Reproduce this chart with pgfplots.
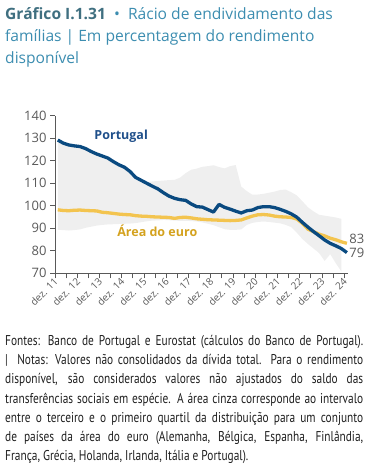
\documentclass[border=0pt]{standalone}
\usepackage{pgfplots}
\pgfplotsset{compat=1.18}
\usepgfplotslibrary{fillbetween}
\usepackage{pgfplotstable}
\usepackage{fontspec}
\setmainfont{Open Sans}
\newfontfamily\notefont[FakeStretch=0.80]{PT Sans}
\definecolor{ptblue}{HTML}{0A4A80}
\definecolor{euyel}{HTML}{F3C44F}
\definecolor{eulab}{HTML}{D4A21E}
\definecolor{ptlab}{HTML}{1F4F8A}
\definecolor{bandgray}{HTML}{EFEFEF}
\definecolor{titA}{HTML}{3F6F80}
\definecolor{titB}{HTML}{3C8DB0}
\definecolor{axgray}{HTML}{595959}

\pgfplotstableread{
q pt eu
0.5 129.2 98.2
1.5 127.8 97.9
2.5 127.0 97.8
3.5 126.6 98.0
4.5 126.3 98.1
5.5 125.4 97.9
6.5 124.1 97.8
7.5 123.0 97.7
8.5 122.1 97.1
9.5 121.2 96.9
10.5 119.6 96.6
11.5 118.2 96.3
12.5 117.1 96.1
13.5 115.2 96.0
14.5 112.6 95.6
15.5 111.3 95.4
16.5 110.0 95.3
17.5 108.7 95.1
18.5 107.5 95.0
19.5 105.8 94.9
20.5 104.3 94.8
21.5 103.3 94.4
22.5 102.7 94.8
23.5 102.4 94.9
24.5 100.8 94.6
25.5 99.6 94.2
26.5 99.4 94.0
27.5 98.3 93.8
28.5 97.2 93.7
29.5 100.6 93.6
30.5 99.3 93.5
31.5 98.5 93.4
32.5 97.6 93.5
33.5 96.8 93.7
34.5 97.8 94.6
35.5 98.1 95.4
36.5 99.2 96.0
37.5 99.6 96.1
38.5 99.6 95.9
39.5 99.2 95.4
40.5 98.4 95.1
41.5 97.5 95.0
42.5 96.4 94.8
43.5 94.9 94.1
44.5 92.6 92.2
45.5 90.5 89.6
46.5 88.5 88.5
47.5 86.7 87.4
48.5 84.8 86.6
49.5 83.3 85.6
50.5 82.2 84.9
51.5 81.0 84.0
52.5 79.2 83.3
}\lineData

\pgfplotstableread{
q lo hi
0.5 89.3 128.5
1.5 89.2 127.3
2.5 89.0 126.6
3.5 89.2 126.2
4.5 89.5 125.8
5.5 90.2 124.8
6.5 90.7 123.6
7.5 91.2 122.5
8.5 91.5 121.6
9.5 91.7 120.7
10.5 91.8 119.1
11.5 91.9 117.7
12.5 92.0 116.6
13.5 92.1 114.7
14.5 92.3 112.2
15.5 92.7 110.8
16.5 93.1 110.5
17.5 93.4 110.8
18.5 93.5 111.0
19.5 93.7 111.2
20.5 93.6 111.4
21.5 93.4 111.5
22.5 93.3 112.5
23.5 93.3 114.5
24.5 93.2 116.0
25.5 93.0 116.5
26.5 92.6 117.3
27.5 92.0 117.6
28.5 91.4 118.0
29.5 90.5 117.2
30.5 89.6 116.6
31.5 89.3 117.6
32.5 89.3 118.1
33.5 89.5 108.5
34.5 91.5 106.5
35.5 92.4 104.9
36.5 92.8 105.0
37.5 93.0 105.3
38.5 92.8 105.8
39.5 92.5 106.3
40.5 92.2 107.0
41.5 91.5 107.2
42.5 90.5 106.0
43.5 88.0 104.6
44.5 85.2 102.0
45.5 83.0 99.3
46.5 81.0 97.5
47.5 79.0 96.0
48.5 75.5 95.6
49.5 78.5 95.2
50.5 74.5 94.8
51.5 70.8 94.2
}\bandData

\begin{document}
\begin{tikzpicture}
\node[anchor=north west, inner sep=0pt, align=left, font=\fontsize{15.6}{22}\selectfont, text=titB] at (5pt,-7pt)
 {{\bfseries\color{titA}Gráfico I.1.31} \ \textbullet\ \ Rácio de endividamento das\\ famílias | Em percentagem do rendimento\\ disponível};

\begin{axis}[
  at={(55pt,-273.3pt)}, anchor=south west,
  scale only axis, width=293pt, height=157.6pt,
  xmin=0, xmax=52.7, ymin=70, ymax=140,
  axis lines=left, axis line style={-, draw=axgray, line width=0.7pt},
  tick align=outside, major tick length=5pt,
  tick style={draw=axgray, line width=0.7pt},
  ytick={70,80,...,140},
  xtick={0,4,...,52},
  minor xtick={2,6,...,50},
  minor tick length=5pt,
  xticklabels={dez. 11,dez. 12,dez. 13,dez. 14,dez. 15,dez. 16,dez. 17,dez. 18,dez. 19,dez. 20,dez. 21,dez. 22,dez. 23,dez. 24},
  xticklabel style={rotate=45, anchor=east, font=\fontsize{10}{12}\selectfont, text=axgray, inner sep=0.5pt, yshift=-2pt},
  yticklabel style={font=\fontsize{13}{14}\selectfont, text=axgray},
  /pgf/number format/assume math mode=true,
  clip=false,
]
\addplot[name path=up, draw=none, forget plot] table[x=q, y=hi] {\bandData};
\addplot[name path=lo, draw=none, forget plot] table[x=q, y=lo] {\bandData};
\addplot[fill=bandgray, draw=none] fill between[of=up and lo];
\addplot[euyel, line width=3.3pt, line join=round] table[x=q, y=eu] {\lineData};
\addplot[ptblue, line width=3.3pt, line join=round] table[x=q, y=pt] {\lineData};
\node[anchor=west, text=axgray, font=\fontsize{13}{14}\selectfont, inner sep=0pt] at (axis cs:52.9,85.3) {83};
\node[anchor=west, text=axgray, font=\fontsize{13}{14}\selectfont, inner sep=0pt] at (axis cs:52.9,79.0) {79};
\node[text=ptlab, font=\bfseries\fontsize{12.5}{14}\selectfont] at (axis cs:11.9,130.8) {Portugal};
\node[text=eulab, font=\bfseries\fontsize{12.5}{14}\selectfont] at (axis cs:18.4,88.9) {Área do euro};
\end{axis}

\node[anchor=north west, inner sep=0pt, text width=358pt, align=justify, font=\notefont\fontsize{14.2}{19.2}\selectfont, text=black!88] at (5pt,-335pt)
 {\emergencystretch=3em
 Fontes: Banco de Portugal e Eurostat (cálculos do Banco de Portugal).\linebreak
 |\ \ Notas: Valores não consolidados da dívida total. Para o rendimento\linebreak
 disponível, são considerados valores não ajustados do saldo das\linebreak
 transferências sociais em espécie. A área cinza corresponde ao intervalo\linebreak
 entre o terceiro e o primeiro quartil da distribuição para um conjunto\linebreak
 de países da área do euro (Alemanha, Bélgica, Espanha, Finlândia,\linebreak
 França, Grécia, Holanda, Irlanda, Itália e Portugal).\par};
\path (0pt,0pt) rectangle (375pt,-473pt);
\end{tikzpicture}
\end{document}
